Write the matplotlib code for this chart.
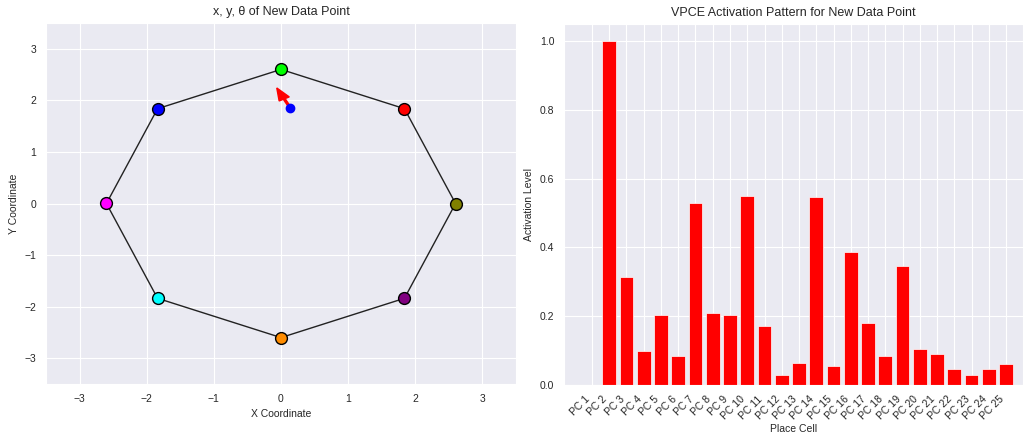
import numpy as np
import matplotlib.pyplot as plt
import seaborn as sns

sns.set_style('darkgrid')
plt.rcParams['font.family'] = ['Liberation Sans', 'DejaVu Sans']

# place cells on the octagon
angles_deg = [0, 45, 90, 135, 180, 225, 270, 315]
radius = 2.6
vertex_colors = ['olive', 'red', 'lime', 'blue', 'magenta', 'cyan', 'darkorange', 'purple']

# new data point
new_x = 0.14
new_y = 1.85
new_theta = 2.05  # rad
arrow_len = 0.2

# activation pattern
cells = ['PC %d' % i for i in range(1, 26)]
activation = [0.0, 1.0, 0.315, 0.100, 0.203, 0.084, 0.528, 0.208, 0.204, 0.549,
              0.172, 0.028, 0.065, 0.546, 0.056, 0.387, 0.181, 0.084, 0.346, 0.105,
              0.089, 0.047, 0.028, 0.046, 0.061]

fig = plt.figure(figsize=(10.23, 4.33), dpi=100)
ax1 = fig.add_axes([46/1023, 49/433, 470/1023, 361/433])
ax2 = fig.add_axes([564/1023, 48/433, 459/1023, 361/433])

a = np.radians(angles_deg)
vx = radius * np.cos(a)
vy = radius * np.sin(a)
ax1.plot(np.append(vx, vx[0]), np.append(vy, vy[0]), color='#222222', lw=1, zorder=2)
for x, y, c in zip(vx, vy, vertex_colors):
    ax1.plot(x, y, 'o', color=c, markersize=8.5, markeredgecolor='black', markeredgewidth=1, zorder=3)

ax1.arrow(new_x, new_y, arrow_len*np.cos(new_theta), arrow_len*np.sin(new_theta),
          head_width=0.17, head_length=0.24, fc='red', ec='red', width=0.03, zorder=4)
ax1.plot(new_x, new_y, 'o', color='blue', markersize=6, zorder=5)

ax1.set_xlim(-3.5, 3.5)
ax1.set_ylim(-3.5, 3.5)
ax1.set_title('x, y, θ of New Data Point', fontsize=9, color='#262626')
ax1.set_xlabel('X Coordinate', fontsize=7.5, color='#262626')
ax1.set_ylabel('Y Coordinate', fontsize=7.5, color='#262626')
ax1.tick_params(labelsize=7.5)

pos = np.arange(len(cells))
ax2.bar(pos, activation, width=0.8, color='red', edgecolor='white', linewidth=0.5)
ax2.set_xticks(pos)
ax2.set_xticklabels(cells, rotation=45, ha='right', fontsize=7.5)
ax2.set_xlim(-1.62, 24.98)
ax2.set_ylim(0, 1.05)
ax2.set_title('VPCE Activation Pattern for New Data Point', fontsize=9, color='#262626')
ax2.set_xlabel('Place Cell', fontsize=7.5, color='#262626', labelpad=2)
ax2.set_ylabel('Activation Level', fontsize=7.5, color='#262626')
ax2.tick_params(axis='y', labelsize=7.5)
ax2.tick_params(axis='x', pad=3)

fig.savefig('out.png', dpi=100)
